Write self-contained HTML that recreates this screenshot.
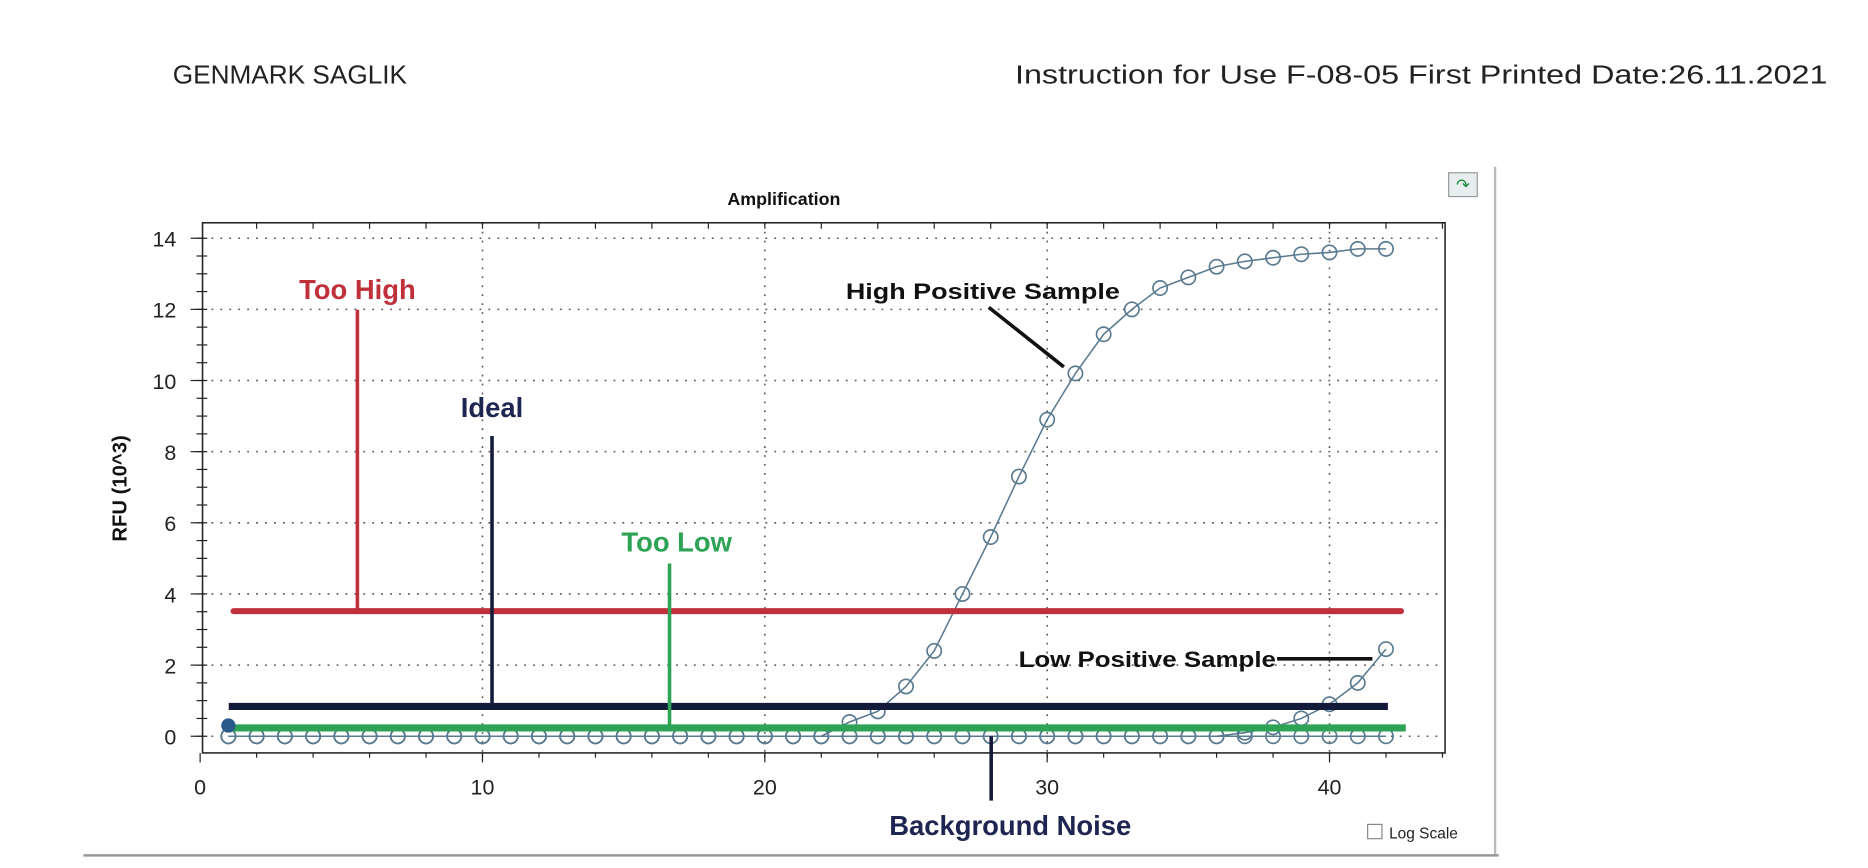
<!DOCTYPE html>
<html><head><meta charset="utf-8"><style>
body{margin:0;background:#fff;width:1868px;height:868px;overflow:hidden}
svg{display:block}
</style></head><body>
<svg id="s" width="1868" height="868" viewBox="0 0 1568 728.6" xmlns="http://www.w3.org/2000/svg" font-family="Liberation Sans, sans-serif">
<text x="145" y="70" font-size="22" fill="#222">GENMARK SAGLIK</text>
<text x="852" y="70" font-size="22" fill="#222" textLength="682" lengthAdjust="spacingAndGlyphs">Instruction for Use  F-08-05  First Printed Date:26.11.2021</text>
<line x1="1255" y1="140" x2="1255" y2="718" stroke="#bbb" stroke-width="2"/>
<line x1="70" y1="718" x2="1258" y2="718" stroke="#999" stroke-width="2"/>
<rect x="1216" y="145" width="24" height="20" fill="#e8eef0" stroke="#999"/>
<text x="1228" y="160" font-size="14" fill="#1a8a3a" text-anchor="middle">↷</text>
<text x="658" y="172" font-size="15" font-weight="bold" text-anchor="middle" fill="#111">Amplification</text>
<text transform="translate(106,410) rotate(-90)" font-size="17" font-weight="bold" text-anchor="middle" fill="#111">RFU (10^3)</text>
<rect x="1148" y="692" width="12" height="12" fill="#fff" stroke="#888"/>
<text x="1166" y="704" font-size="13" fill="#222">Log Scale</text>
<g id="g"></g>
</svg>
<script>
const g=document.getElementById('g');let h='';
const X=c=>168+c*23.7, Y=v=>618-v*29.86;
const L=170,R=1213,T=187,B=632;
for(let v=0;v<=14;v+=2){h+=`<line x1="${L}" x2="${R}" y1="${Y(v)}" y2="${Y(v)}" stroke="#555" stroke-width="1.3" stroke-dasharray="1.5 6"/>`;
h+=`<text x="${L-22}" y="${Y(v)+7}" font-size="18" text-anchor="end" fill="#222">${v}</text>`;
h+=`<line x1="${L-10}" x2="${L}" y1="${Y(v)}" y2="${Y(v)}" stroke="#222"/>`;}
for(let v=0;v<=14.01;v+=0.5)h+=`<line x1="${L-5}" x2="${L+4}" y1="${Y(v)}" y2="${Y(v)}" stroke="#222"/>`;
for(let c=10;c<=40;c+=10){h+=`<line x1="${X(c)}" x2="${X(c)}" y1="${T}" y2="${B}" stroke="#555" stroke-width="1.3" stroke-dasharray="1.5 6"/>`;}
for(let c=0;c<=40;c+=10)h+=`<text x="${X(c)}" y="667" font-size="18" text-anchor="middle" fill="#222">${c}</text><line x1="${X(c)}" x2="${X(c)}" y1="${B}" y2="${B+8}" stroke="#222"/>`;
for(let c=2;c<=44;c+=2){h+=`<line x1="${X(c)}" x2="${X(c)}" y1="${T}" y2="${T+5}" stroke="#222"/><line x1="${X(c)}" x2="${X(c)}" y1="${B}" y2="${B+4}" stroke="#222"/>`;}
h+=`<rect x="${L}" y="${T}" width="${R-L}" height="${B-T}" fill="none" stroke="#222" stroke-width="1.3"/>`;
const hp={23:0.4,24:0.7,25:1.4,26:2.4,27:4.0,28:5.6,29:7.3,30:8.9,31:10.2,32:11.3,33:12.0,34:12.6,35:12.9,36:13.2,37:13.35,38:13.45,39:13.55,40:13.6,41:13.7,42:13.7};
const lp={37:0.1,38:0.25,39:0.5,40:0.9,41:1.5,42:2.45};
function curve(d){let p=[];for(let c=1;c<=42;c++)p.push([X(c),Y(d[c]||0)]);
h+=`<polyline points="${p.map(q=>q.join(',')).join(' ')}" fill="none" stroke="#5a7a90" stroke-width="1.3"/>`;
p.forEach(q=>h+=`<circle cx="${q[0]}" cy="${q[1]}" r="6" fill="none" stroke="#5a7a90" stroke-width="1.4"/>`);}
curve({});curve(lp);curve(hp);
h+=`<line x1="196" x2="1176" y1="513" y2="513" stroke="#c0303a" stroke-width="5" stroke-linecap="round"/>`;
h+=`<line x1="300" x2="300" y1="260" y2="513" stroke="#c0303a" stroke-width="3"/>`;
h+=`<line x1="192" x2="1165" y1="593" y2="593" stroke="#141a3a" stroke-width="6"/>`;
h+=`<line x1="413" x2="413" y1="366" y2="593" stroke="#141a3a" stroke-width="3"/>`;
h+=`<line x1="192" x2="1180" y1="611" y2="611" stroke="#2ea356" stroke-width="6"/>`;
h+=`<line x1="562" x2="562" y1="473" y2="611" stroke="#2ea356" stroke-width="3"/>`;
h+=`<circle cx="${X(1)}" cy="609" r="6" fill="#2a5a8a"/>`;
h+=`<line x1="832" x2="832" y1="618" y2="672" stroke="#141a3a" stroke-width="3"/>`;
h+=`<line x1="830" x2="893" y1="258" y2="308" stroke="#111" stroke-width="3"/>`;
h+=`<line x1="1072" x2="1152" y1="553" y2="553" stroke="#111" stroke-width="3"/>`;
h+=`<text x="300" y="251" font-size="23" font-weight="bold" fill="#c0303a" text-anchor="middle">Too High</text>`;
h+=`<text x="413" y="350" font-size="23" font-weight="bold" fill="#1e2550" text-anchor="middle">Ideal</text>`;
h+=`<text x="568" y="463" font-size="23" font-weight="bold" fill="#2ea356" text-anchor="middle">Too Low</text>`;
h+=`<text x="710" y="251" font-size="19" font-weight="bold" fill="#111" textLength="230" lengthAdjust="spacingAndGlyphs">High Positive Sample</text>`;
h+=`<text x="855" y="560" font-size="19" font-weight="bold" fill="#111" textLength="216" lengthAdjust="spacingAndGlyphs">Low Positive Sample</text>`;
h+=`<text x="848" y="701" font-size="23" font-weight="bold" fill="#1e2550" text-anchor="middle">Background Noise</text>`;
g.innerHTML=h;
</script>
</body></html>
